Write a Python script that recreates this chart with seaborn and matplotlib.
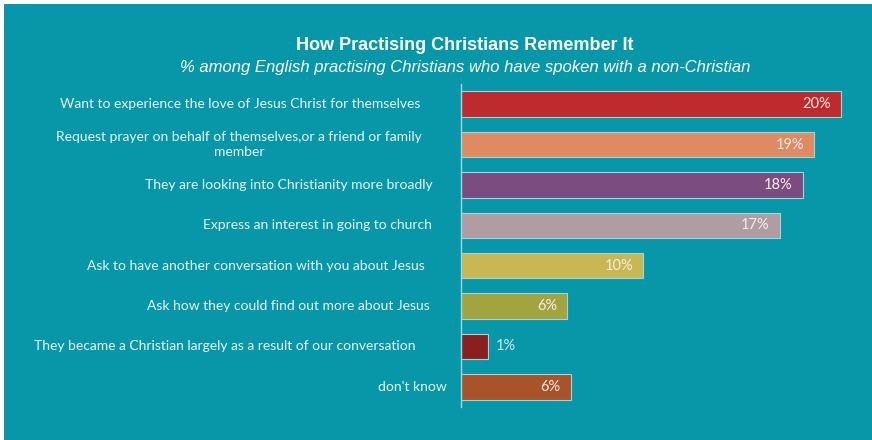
import matplotlib
matplotlib.use("Agg")
import matplotlib.pyplot as plt
import matplotlib.transforms as mtransforms
import seaborn as sns
import pandas as pd
from matplotlib.patches import Rectangle

# data
categories = [
    "Want to experience the love of Jesus Christ for themselves",
    "Request prayer on behalf of themselves,or a friend or family\nmember",
    "They are looking into Christianity more broadly",
    "Express an interest in going to church",
    "Ask to have another conversation with you about Jesus",
    "Ask how they could find out more about Jesus",
    "They became a Christian largely as a result of our conversation",
    "don't know",
]
values = [20.0, 18.6, 18.0, 16.8, 9.6, 5.6, 1.4, 5.8]
value_labels = ["20%", "19%", "18%", "17%", "10%", "6%", "1%", "6%"]
bar_colors = ["#bd2b2f", "#de8a63", "#7b4c7f", "#b09ca1",
              "#c8b853", "#a2a43f", "#8a1f20", "#a9532b"]

title = "How Practising Christians Remember It"
subtitle = "% among English practising Christians who have spoken with a non-Christian"

# right edge (px) of each category label, the original is not evenly aligned
label_right_px = [420, 422, 433, 432, 425, 430, 415, 447]

bg = "#0797a8"

sns.set_theme(style="white")
plt.rcParams['font.family'] = ['Lato', 'DejaVu Sans']

df = pd.DataFrame({"category": categories, "value": values})

fig = plt.figure(figsize=(8.72, 4.4), dpi=100, facecolor=bg)
ax = fig.add_axes([461 / 872, 1 - 407 / 440, 400 / 872, 323 / 440])
ax.set_facecolor(bg)

sns.barplot(data=df, x="value", y="category", hue="category",
            palette=bar_colors, saturation=1, orient="h", width=0.63,
            legend=False, edgecolor="#9fd6de", linewidth=0.8, ax=ax)

ax.set_xlim(0, 400 / 19)
ax.set_ylim(7.5, -0.5)
ax.set_xlabel("")
ax.set_ylabel("")
ax.set_xticks([])
ax.set_yticks(range(len(categories)))
ax.set_yticklabels([])
ax.tick_params(axis="y", length=0)
for s in ["top", "right", "bottom"]:
    ax.spines[s].set_visible(False)
ax.spines["left"].set_color("#a6d4db")
ax.spines["left"].set_linewidth(1.0)

# category labels
trans = mtransforms.blended_transform_factory(fig.transFigure, ax.transData)
for i, (cat, xr) in enumerate(zip(categories, label_right_px)):
    ax.text(xr / 872, i, cat, transform=trans, ha="right", va="center",
            fontsize=10, color="#eaf6f7", multialignment="center",
            linespacing=1.3)

# value labels
for i, (v, txt) in enumerate(zip(values, value_labels)):
    if v < 3:
        ax.text(v + 0.45, i, txt, ha="left", va="center", fontsize=10.5,
                color="#c5ecf1")
    else:
        ax.text(v - 0.55, i, txt, ha="right", va="center", fontsize=10.5,
                color="#f6ece6")

fig.text(465 / 872, 1 - 46 / 440, title, ha="center", va="center",
         fontsize=13, fontweight="bold", color="white",
         family=["Liberation Sans", "DejaVu Sans"])
fig.text(465 / 872, 1 - 67 / 440, subtitle, ha="center", va="center",
         fontsize=12, style="italic", color="white",
         family=["Liberation Sans", "DejaVu Sans"])

# thin white frame on top and left edges
fig.patches.append(Rectangle((0, 0), 4 / 872, 1, transform=fig.transFigure,
                             facecolor="white", edgecolor="none"))
fig.patches.append(Rectangle((0, 1 - 4 / 440), 1, 4 / 440, transform=fig.transFigure,
                             facecolor="white", edgecolor="none"))

fig.savefig("out.png", dpi=100, facecolor=bg)
